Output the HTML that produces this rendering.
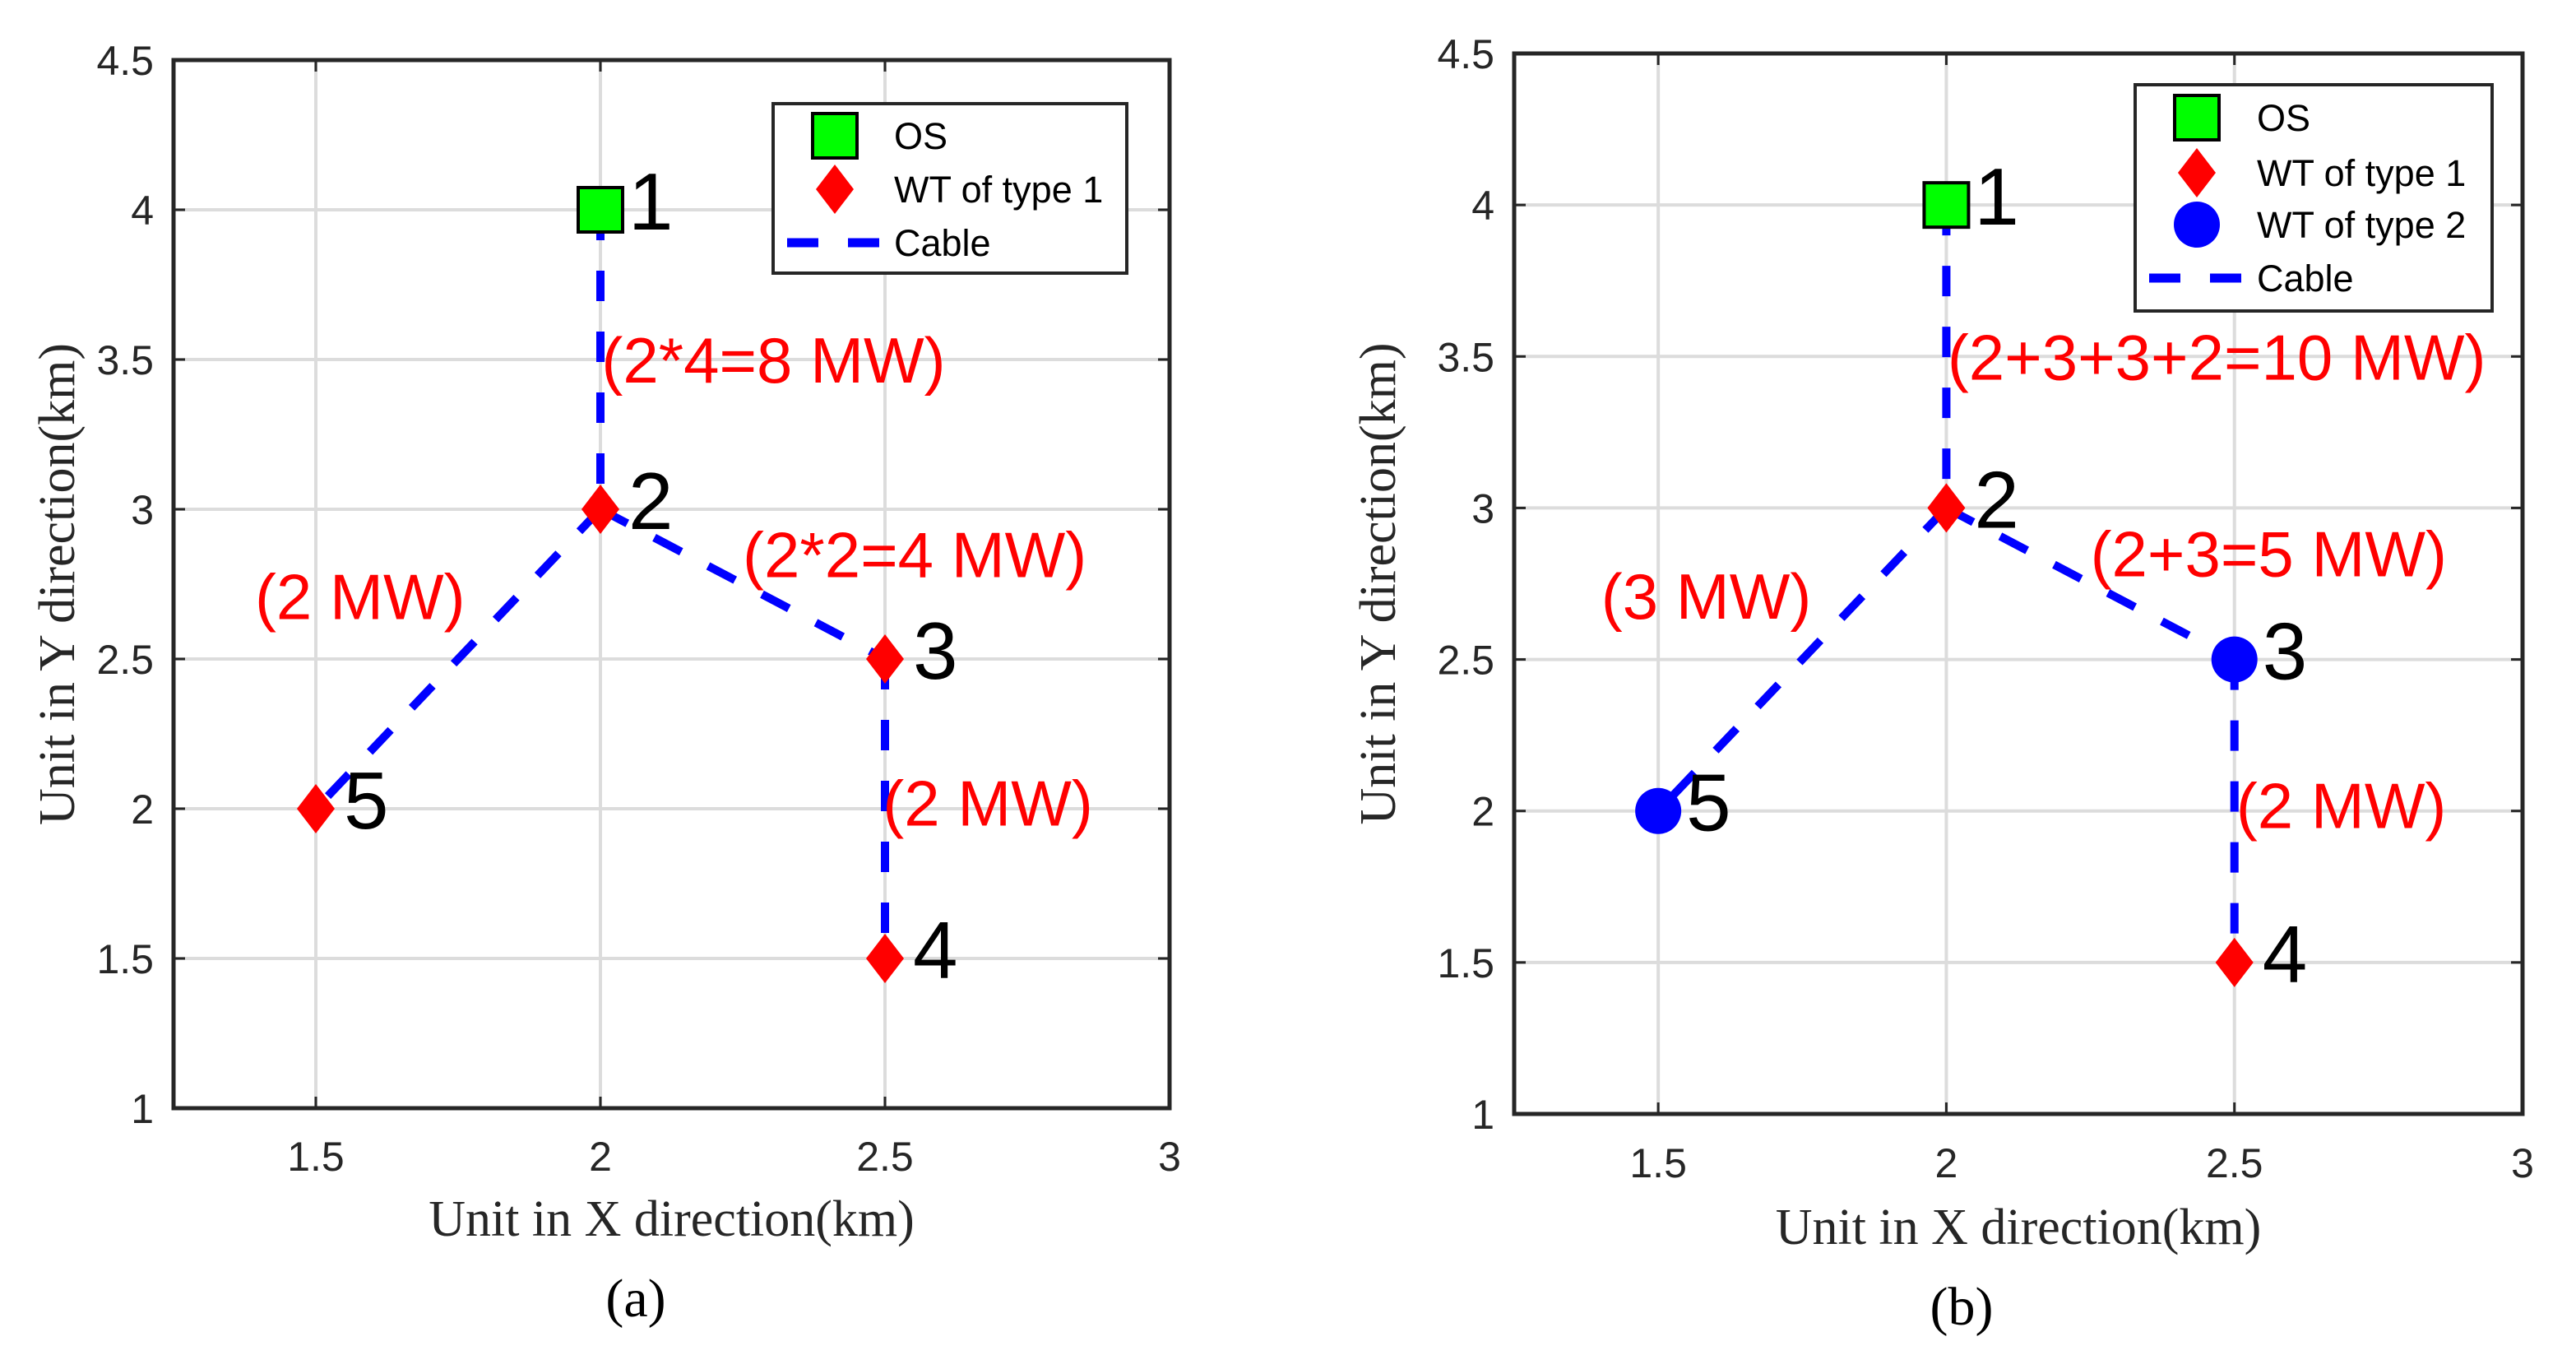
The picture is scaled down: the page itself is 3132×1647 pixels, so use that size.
<!DOCTYPE html>
<html>
<head>
<meta charset="utf-8">
<style>
html,body{margin:0;padding:0;background:#fff;}
svg{display:block;}
</style>
</head>
<body>
<svg id="fig" xmlns="http://www.w3.org/2000/svg" width="3132" height="1647" viewBox="0 0 3132 1647"></svg>
<script>
// ---- data ----
const xTicks = [1.5, 2, 2.5, 3];
const yTicks = [1, 1.5, 2, 2.5, 3, 3.5, 4, 4.5];
const xTickLabels = ["1.5", "2", "2.5", "3"];
const yTickLabels = ["1", "1.5", "2", "2.5", "3", "3.5", "4", "4.5"];
const nodeIds = [1, 2, 3, 4, 5];
const nodeX = [2, 2, 2.5, 2.5, 1.5];
const nodeY = [4, 3, 2.5, 1.5, 2];
const edgesFrom = [1, 2, 3, 2];
const edgesTo = [2, 3, 4, 5];
const typesA = ["os", "wt1", "wt1", "wt1", "wt1"];
const typesB = ["os", "wt1", "wt2", "wt1", "wt2"];
const powerLabelsA = ["(2*4=8 MW)", "(2*2=4 MW)", "(2 MW)", "(2 MW)"];
const powerLabelsB = ["(2+3+3+2=10 MW)", "(2+3=5 MW)", "(3 MW)", "(2 MW)"];
const powerLabelXA = [2.002, 2.25, 1.393, 2.496];
const powerLabelXB = [2.002, 2.25, 1.401, 2.503];
const powerLabelY = [3.5, 2.85, 2.71, 2.02];
const legendA = ["OS", "WT of type 1", "Cable"];
const legendB = ["OS", "WT of type 1", "WT of type 2", "Cable"];

const NS = "http://www.w3.org/2000/svg";
const svg = document.getElementById('fig');
function mk(tag, attrs, parent, text){
  const e = document.createElementNS(NS, tag);
  for (const k in attrs) e.setAttribute(k, attrs[k]);
  if (text !== undefined) e.textContent = text;
  (parent || svg).appendChild(e);
  return e;
}

function drawMarker(g, type, cx, cy, legend){
  let m;
  if (type === "os") {
    m = mk('rect', {x: cx-27, y: cy-27, width: 54, height: 54, fill: '#00ff00', stroke: '#000', 'stroke-width': 4}, g);
    
  } else if (type === "wt1") {
    m = mk('polygon', {points: `${cx},${cy-30} ${cx+23},${cy} ${cx},${cy+30} ${cx-23},${cy}`, fill: '#ff0000'}, g);
    
  } else {
    m = mk('circle', {cx: cx, cy: cy, r: 28, fill: '#0000ff'}, g);
    
  }
  
}

function panel(cfg){
  const {L, T, R, B, types, labels, labelX, legend, leg, tag, titleY, xTitleY, xTickY, yTitleX} = cfg;
  const xs = v => L + (v - 1.25) / 1.75 * (R - L);
  const ys = v => B - (v - 1) / 3.5 * (B - T);
  const g = mk('g', {});
  
  
  mk('rect', {x: L, y: T, width: R-L, height: B-T, fill: '#fff'}, g);
  xTicks.forEach(v => {
    const l = mk('line', {x1: xs(v), x2: xs(v), y1: T, y2: B, stroke: '#dcdcdc', 'stroke-width': 4}, g);
    
    
  });
  yTicks.forEach(v => {
    const l = mk('line', {x1: L, x2: R, y1: ys(v), y2: ys(v), stroke: '#dcdcdc', 'stroke-width': 4}, g);
    
    
  });
  xTicks.forEach((v, i) => {
    mk('line', {x1: xs(v), x2: xs(v), y1: B, y2: B-14, stroke: '#262626', 'stroke-width': 3}, g);
    mk('line', {x1: xs(v), x2: xs(v), y1: T, y2: T+14, stroke: '#262626', 'stroke-width': 3}, g);
    const t = mk('text', {x: xs(v), y: xTickY, 'text-anchor': 'middle', 'font-family': 'Liberation Sans, Arial, sans-serif', 'font-size': 50, fill: '#262626'}, g, xTickLabels[i]);
    
    
  });
  yTicks.forEach((v, i) => {
    mk('line', {x1: L, x2: L+14, y1: ys(v), y2: ys(v), stroke: '#262626', 'stroke-width': 3}, g);
    mk('line', {x1: R, x2: R-14, y1: ys(v), y2: ys(v), stroke: '#262626', 'stroke-width': 3}, g);
    const t = mk('text', {x: L-24, y: ys(v)+18, 'text-anchor': 'end', 'font-family': 'Liberation Sans, Arial, sans-serif', 'font-size': 50, fill: '#262626'}, g, yTickLabels[i]);
    
    
  });
  const box = mk('rect', {x: L, y: T, width: R-L, height: B-T, fill: 'none', stroke: '#262626', 'stroke-width': 5}, g);
  
  
  edgesFrom.forEach((f, i) => {
    const a = f - 1, b = edgesTo[i] - 1;
    const l = mk('line', {x1: xs(nodeX[a]), y1: ys(nodeY[a]), x2: xs(nodeX[b]), y2: ys(nodeY[b]), stroke: '#0000ff', 'stroke-width': 10, 'stroke-dasharray': '37 37'}, g);
    
    
  });
  labels.forEach((s, i) => {
    const t = mk('text', {x: xs(labelX[i]), y: ys(powerLabelY[i]) + 28, 'font-family': 'Liberation Sans, Arial, sans-serif', 'font-size': 78, fill: '#ff0000'}, g, s);
    
    
  });
  nodeIds.forEach((id, i) => {
    drawMarker(g, types[i], xs(nodeX[i]), ys(nodeY[i]), false);
    const t = mk('text', {x: xs(nodeX[i]) + 34, y: ys(nodeY[i]) + 24, 'font-family': 'Liberation Sans, Arial, sans-serif', 'font-size': 98, fill: '#000'}, g, String(id));
    
    
  });
  const lg = mk('g', {}, g);
  
  
  mk('rect', {x: leg.x, y: leg.y, width: leg.w, height: leg.h, fill: '#fff', stroke: '#262626', 'stroke-width': 4}, lg);
  legend.forEach((s, i) => {
    const cy = leg.rows[i];
    if (s === 'Cable') {
      mk('line', {x1: leg.mx - 58, x2: leg.mx + 58, y1: cy, y2: cy, stroke: '#0000ff', 'stroke-width': 11, 'stroke-dasharray': '38 36'}, lg);
    } else {
      drawMarker(lg, s === 'OS' ? 'os' : (s === 'WT of type 1' ? 'wt1' : 'wt2'), leg.mx, cy, true);
    }
    const t = mk('text', {x: leg.tx, y: cy + 16, 'font-family': 'Liberation Sans, Arial, sans-serif', 'font-size': 45, fill: '#000'}, lg, s);
    
    
  });
  const xt = mk('text', {x: (L+R)/2, y: xTitleY, 'text-anchor': 'middle', 'font-family': 'Liberation Serif, Times New Roman, serif', 'font-size': 62, fill: '#262626'}, g, 'Unit in X direction(km)');
  
  
  const cyM = (T+B)/2;
  const yt = mk('text', {x: yTitleX, y: cyM, 'text-anchor': 'middle', transform: `rotate(-90 ${yTitleX} ${cyM})`, 'font-family': 'Liberation Serif, Times New Roman, serif', 'font-size': 62, fill: '#262626'}, g, 'Unit in Y direction(km)');
  
  
  const pt = mk('text', {x: cfg.tagX, y: titleY, 'text-anchor': 'middle', 'font-family': 'Liberation Serif, Times New Roman, serif', 'font-size': 66, fill: '#000'}, g, '(' + tag + ')');
  
  
}

panel({L: 211, T: 73, R: 1422, B: 1347, types: typesA, labels: powerLabelsA, labelX: powerLabelXA, legend: legendA,
  leg: {x: 940, y: 126, w: 430, h: 206, mx: 1015, tx: 1087, rows: [165, 230, 295]},
  tag: 'a', tagX: 773, titleY: 1600, xTitleY: 1502, xTickY: 1423, yTitleX: 90});
panel({L: 1841, T: 65, R: 3067, B: 1354, types: typesB, labels: powerLabelsB, labelX: powerLabelXB, legend: legendB,
  leg: {x: 2596, y: 103, w: 434, h: 275, mx: 2671, tx: 2744, rows: [143, 210, 273, 338]},
  tag: 'b', tagX: 2385, titleY: 1610, xTitleY: 1512, xTickY: 1431, yTitleX: 1696});
</script>
</body>
</html>
